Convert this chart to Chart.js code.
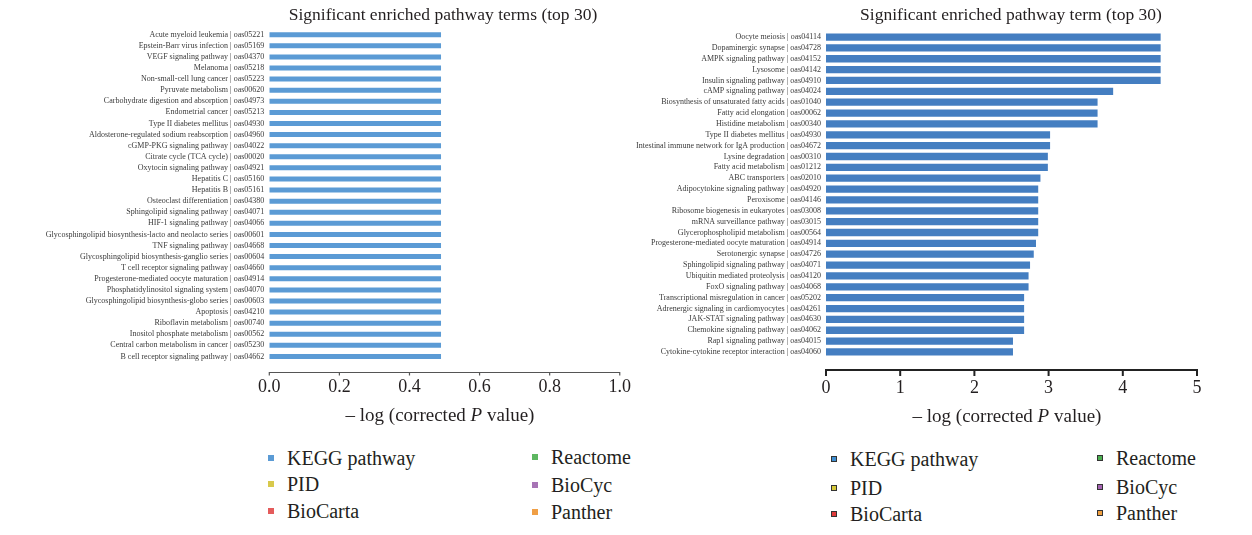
<!DOCTYPE html>
<html>
<head>
<meta charset="utf-8">
<script src="https://cdn.jsdelivr.net/npm/chart.js@4.4.1/dist/chart.umd.min.js"></script>
<style>
  body { margin: 0; width: 1252px; height: 535px; position: relative; background: #fff; overflow: hidden;
         font-family: "Liberation Serif", "DejaVu Serif", serif; color: #231f20; }
  .box { position: absolute; }
  #leftBox { left: 0; top: 0; width: 645px; height: 440px; }
  #rightBox { left: 620px; top: 0; width: 632px; height: 440px; }
  .title { position: absolute; font-size: 17.5px; line-height: 1; white-space: nowrap; transform: translate(-50%, -50%); }
  .axtitle { position: absolute; font-size: 19px; line-height: 1; white-space: nowrap; transform: translate(-50%, -50%); }
  .leg { position: absolute; font-size: 20px; line-height: 1; white-space: nowrap; transform: translateY(-50%); }
  .leg span { display: inline-block; width: 6px; height: 6px; margin-right: 13px; vertical-align: middle; position: relative; top: -2px; }
  .leg.outlined span { width: 4px; height: 4px; border: 1px solid #333; }
</style>
</head>
<body>
<div class="box" id="leftBox"><canvas id="leftChart"></canvas></div>
<div class="box" id="rightBox"><canvas id="rightChart"></canvas></div>

<div class="title" style="left:443px; top:15px;">Significant enriched pathway terms (top 30)</div>
<div class="title" style="left:1011px; top:15px;">Significant enriched pathway term (top 30)</div>
<div class="axtitle" style="left:440px; top:414px;">– log (corrected <i>P</i> value)</div>
<div class="axtitle" style="left:1007px; top:415px;">– log (corrected <i>P</i> value)</div>
<div id="legends"></div>

<script>
// ---- data ----
const leftLabels = [
  'Acute myeloid leukemia | oas05221',
  'Epstein-Barr virus infection | oas05169',
  'VEGF signaling pathway | oas04370',
  'Melanoma | oas05218',
  'Non-small-cell lung cancer | oas05223',
  'Pyruvate metabolism | oas00620',
  'Carbohydrate digestion and absorption | oas04973',
  'Endometrial cancer | oas05213',
  'Type II diabetes mellitus | oas04930',
  'Aldosterone-regulated sodium reabsorption | oas04960',
  'cGMP-PKG signaling pathway | oas04022',
  'Citrate cycle (TCA cycle) | oas00020',
  'Oxytocin signaling pathway | oas04921',
  'Hepatitis C | oas05160',
  'Hepatitis B | oas05161',
  'Osteoclast differentiation | oas04380',
  'Sphingolipid signaling pathway | oas04071',
  'HIF-1 signaling pathway | oas04066',
  'Glycosphingolipid biosynthesis-lacto and neolacto series | oas00601',
  'TNF signaling pathway | oas04668',
  'Glycosphingolipid biosynthesis-ganglio series | oas00604',
  'T cell receptor signaling pathway | oas04660',
  'Progesterone-mediated oocyte maturation | oas04914',
  'Phosphatidylinositol signaling system | oas04070',
  'Glycosphingolipid biosynthesis-globo series | oas00603',
  'Apoptosis | oas04210',
  'Riboflavin metabolism | oas00740',
  'Inositol phosphate metabolism | oas00562',
  'Central carbon metabolism in cancer | oas05230',
  'B cell receptor signaling pathway | oas04662'
];
const leftValues = [0.49, 0.49, 0.49, 0.49, 0.49, 0.49, 0.49, 0.49, 0.49, 0.49,
                    0.49, 0.49, 0.49, 0.49, 0.49, 0.49, 0.49, 0.49, 0.49, 0.49,
                    0.49, 0.49, 0.49, 0.49, 0.49, 0.49, 0.49, 0.49, 0.49, 0.49];

const rightLabels = [
  'Oocyte meiosis | oas04114',
  'Dopaminergic synapse | oas04728',
  'AMPK signaling pathway | oas04152',
  'Lysosome | oas04142',
  'Insulin signaling pathway | oas04910',
  'cAMP signaling pathway | oas04024',
  'Biosynthesis of unsaturated fatty acids | oas01040',
  'Fatty acid elongation | oas00062',
  'Histidine metabolism | oas00340',
  'Type II diabetes mellitus | oas04930',
  'Intestinal immune network for IgA production | oas04672',
  'Lysine degradation | oas00310',
  'Fatty acid metabolism | oas01212',
  'ABC transporters | oas02010',
  'Adipocytokine signaling pathway | oas04920',
  'Peroxisome | oas04146',
  'Ribosome biogenesis in eukaryotes | oas03008',
  'mRNA surveillance pathway | oas03015',
  'Glycerophospholipid metabolism | oas00564',
  'Progesterone-mediated oocyte maturation | oas04914',
  'Serotonergic synapse | oas04726',
  'Sphingolipid signaling pathway | oas04071',
  'Ubiquitin mediated proteolysis | oas04120',
  'FoxO signaling pathway | oas04068',
  'Transcriptional misregulation in cancer | oas05202',
  'Adrenergic signaling in cardiomyocytes | oas04261',
  'JAK-STAT signaling pathway | oas04630',
  'Chemokine signaling pathway | oas04062',
  'Rap1 signaling pathway | oas04015',
  'Cytokine-cytokine receptor interaction | oas04060'
];
const rightValues = [4.51, 4.51, 4.51, 4.51, 4.51, 3.87, 3.66, 3.66, 3.66, 3.02,
                     3.02, 2.99, 2.99, 2.89, 2.86, 2.86, 2.86, 2.86, 2.86, 2.83,
                     2.80, 2.75, 2.73, 2.73, 2.67, 2.67, 2.67, 2.67, 2.52, 2.52];

const leftTicks = ['0.0', '0.2', '0.4', '0.6', '0.8', '1.0'];
const rightTicks = ['0', '1', '2', '3', '4', '5'];

const legendNames = ['KEGG pathway', 'PID', 'BioCarta', 'Reactome', 'BioCyc', 'Panther'];
const legendColorsLeft = ['#5b9bd5', '#d8c94c', '#e45b5b', '#5db761', '#a774b5', '#f09f45'];
const legendColorsRight = ['#3f8fd2', '#d6c93a', '#e03a3a', '#4caf50', '#a564b3', '#f0a040'];

// ---- helpers ----
// draws the x axis line a little below the plot, like the original figure
const offsetAxis = {
  id: 'offsetAxis',
  afterDraw(chart, args, o) {
    const { ctx, chartArea, scales: { x } } = chart;
    const y0 = chartArea.bottom + o.gap;
    ctx.save();
    ctx.strokeStyle = o.color;
    ctx.lineWidth = o.width;
    ctx.beginPath();
    ctx.moveTo(x.left - o.width / 2, y0);
    ctx.lineTo(x.right + o.width / 2, y0);
    x.ticks.forEach(t => {
      const px = x.getPixelForValue(t.value);
      ctx.moveTo(px, y0);
      ctx.lineTo(px, y0 + o.tick);
    });
    ctx.stroke();
    ctx.restore();
  }
};

function makeChart(id, labels, values, cfg) {
  return new Chart(document.getElementById(id), {
    type: 'bar',
    data: {
      labels: labels,
      datasets: [{ data: values, backgroundColor: cfg.color, borderWidth: 0,
                   barPercentage: cfg.bar, categoryPercentage: 1 }]
    },
    options: {
      indexAxis: 'y',
      responsive: true,
      maintainAspectRatio: false,
      animation: false,
      layout: { padding: cfg.padding },
      plugins: {
        legend: { display: false },
        tooltip: { enabled: false },
        offsetAxis: cfg.axis
      },
      scales: {
        x: {
          min: 0, max: cfg.max,
          afterFit: s => { s.height = 60; },
          grid: { display: false, drawTicks: false },
          border: { display: false },
          ticks: {
            stepSize: cfg.step,
            padding: cfg.tickPad,
            color: '#231f20',
            font: { family: '"Liberation Serif", serif', size: 18 },
            callback: (v, i) => cfg.ticks[i]
          }
        },
        y: {
          afterFit: s => { s.width = cfg.yWidth; },
          grid: { display: false, drawTicks: false },
          border: { display: false },
          ticks: {
            autoSkip: false,
            padding: 5,
            color: '#3a3a3a',
            font: { family: '"Liberation Serif", serif', size: 8 }
          }
        }
      }
    },
    plugins: [offsetAxis]
  });
}

makeChart('leftChart', leftLabels, leftValues, {
  color: '#5b9bd5', bar: 0.45, max: 1, step: 0.2, ticks: leftTicks,
  yWidth: 269.3, tickPad: 14,
  padding: { top: 29.2, right: 0, bottom: 18, left: 0 },
  axis: { gap: 10.5, color: '#555', width: 1.2, tick: 3 }
});

makeChart('rightChart', rightLabels, rightValues, {
  color: '#447ec1', bar: 0.67, max: 5, step: 1, ticks: rightTicks,
  yWidth: 206, tickPad: 20,
  padding: { top: 31.6, right: 55, bottom: 22.6, left: 0 },
  axis: { gap: 12.5, color: '#222', width: 2, tick: 6 }
});

// ---- legends (two columns, three rows) ----
function addLegend(colors, x1, x2, rows1, rows2, outlined) {
  const holder = document.getElementById('legends');
  legendNames.forEach((name, i) => {
    const d = document.createElement('div');
    d.className = 'leg' + (outlined ? ' outlined' : '');
    const col = i < 3 ? 0 : 1;
    d.style.left = (col ? x2 : x1) + 'px';
    d.style.top = (col ? rows2[i - 3] : rows1[i]) + 'px';
    const sw = document.createElement('span');
    sw.style.background = colors[i];
    d.appendChild(sw);
    d.appendChild(document.createTextNode(name));
    holder.appendChild(d);
  });
}
addLegend(legendColorsLeft, 268, 532, [458, 483.5, 511], [457, 485, 511.5], false);
addLegend(legendColorsRight, 831, 1097, [459, 487.5, 514], [457.5, 486.5, 512.5], true);
</script>
</body>
</html>
